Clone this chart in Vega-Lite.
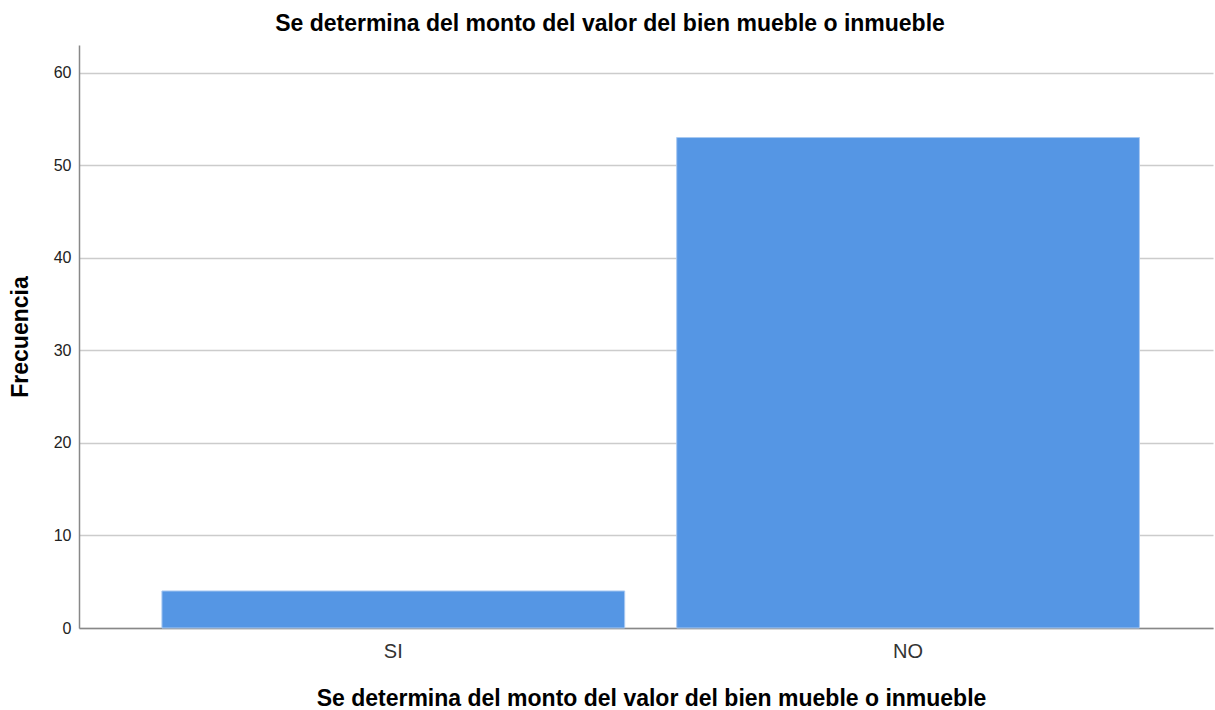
{
  "$schema": "https://vega.github.io/schema/vega-lite/v6.json",
  "autosize": "none",
  "width": 1134,
  "height": 583,
  "padding": {"left": 79, "top": 45, "right": 2, "bottom": 82},
  "background": "white",
  "title": {
    "text": "Se determina del monto del valor del bien mueble o inmueble",
    "font": "Liberation Sans",
    "fontSize": 23,
    "fontWeight": "bold",
    "color": "#000000",
    "anchor": "middle",
    "offset": 9,
    "dx": -36
  },
  "config": {
    "view": {"stroke": null},
    "font": "Liberation Sans"
  },
  "data": {
    "values": [
      {"categoria": "SI", "frecuencia": 4},
      {"categoria": "NO", "frecuencia": 53}
    ]
  },
  "mark": {"type": "bar", "color": "#5596e4", "stroke": "#a9c9f1", "strokeWidth": 1},
  "encoding": {
    "x": {
      "field": "categoria",
      "type": "nominal",
      "sort": ["SI", "NO"],
      "scale": {"paddingInner": 0.101, "paddingOuter": 0.152, "align": 0.53},
      "axis": {
        "title": "Se determina del monto del valor del bien mueble o inmueble",
        "titleFont": "Liberation Sans",
        "titleFontSize": 23,
        "titleFontWeight": "bold",
        "titleColor": "#000000",
        "titlePadding": 26,
        "titleX": 572,
        "labelAngle": 0,
        "labelFont": "Liberation Sans",
        "labelFontSize": 20,
        "labelColor": "#333333",
        "labelPadding": 13,
        "ticks": false,
        "domainColor": "#888888",
        "domainWidth": 1.5,
        "grid": false
      }
    },
    "y": {
      "field": "frecuencia",
      "type": "quantitative",
      "scale": {"domain": [0, 63], "nice": false},
      "axis": {
        "title": "Frecuencia",
        "titleFont": "Liberation Sans",
        "titleFontSize": 23,
        "titleFontWeight": "bold",
        "titleColor": "#000000",
        "titlePadding": 21,
        "values": [0, 10, 20, 30, 40, 50, 60],
        "labelFont": "Liberation Sans",
        "labelFontSize": 16,
        "labelColor": "#222222",
        "labelPadding": 8,
        "ticks": false,
        "domainColor": "#888888",
        "domainWidth": 1.5,
        "grid": true,
        "gridColor": "#cccccc",
        "gridWidth": 1.5
      }
    }
  }
}
